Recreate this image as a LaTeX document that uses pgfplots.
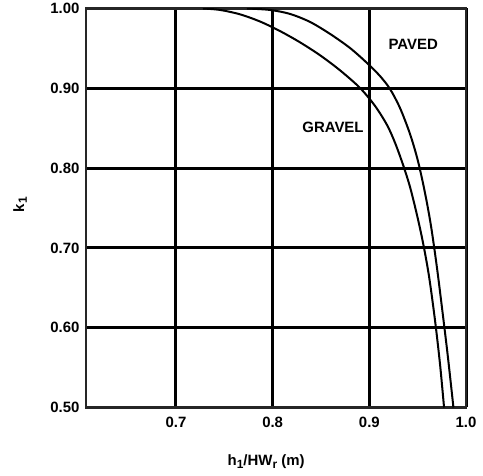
\documentclass[border=0pt]{standalone}
\usepackage{fontspec}
\setmainfont{Liberation Sans}
\usepackage{pgfplots}
\pgfplotsset{compat=1.18}
\begin{document}
\begin{tikzpicture}
\begin{axis}[
  scale only axis, width=380bp, height=399bp,
  xmin=0.6069, xmax=1.0, ymin=0.5, ymax=1.0,
  xtick={0.7,0.8,0.9,1.0}, ytick={0.5,0.6,0.7,0.8,0.9,1.0},
  grid=major, major grid style={black, line width=3bp},
  axis line style={black!85, line width=2.5bp},
  major tick length=0pt,
  tick label style={font=\fontsize{15}{18}\selectfont\bfseries, /pgf/number format/assume math mode=true},
  xticklabel style={/pgf/number format/fixed, /pgf/number format/fixed zerofill, /pgf/number format/precision=1, yshift=-6bp},
  yticklabel style={/pgf/number format/fixed, /pgf/number format/fixed zerofill, /pgf/number format/precision=2, xshift=-3bp},
  xlabel={h\raisebox{-0.35ex}{\fontsize{12}{12}\selectfont 1}/HW\raisebox{-0.35ex}{\fontsize{12}{12}\selectfont r} (m)},
  xlabel style={at={(axis description cs:0.474,-0.1366)}, anchor=center, font=\fontsize{15}{18}\selectfont\bfseries},
  ylabel={k\raisebox{-0.35ex}{\fontsize{12}{12}\selectfont 1}},
  ylabel style={at={(axis description cs:-0.1737,0.508)}, anchor=center, font=\fontsize{15}{18}\selectfont\bfseries},
]
% GRAVEL
\addplot[black, line width=2bp, smooth, tension=0.5] coordinates {
(0.7279,1.0000) (0.7455,0.9982) (0.7662,0.9927) (0.7869,0.9837) (0.8076,0.9717)
(0.8283,0.9576) (0.8490,0.9414) (0.8696,0.9226) (0.8903,0.9005) (0.9059,0.8779)
(0.9183,0.8540) (0.9265,0.8320) (0.9348,0.8044) (0.9421,0.7763) (0.9493,0.7412)
(0.9555,0.7066) (0.9617,0.6648) (0.9679,0.6096) (0.9731,0.5545) (0.9773,0.5000)
};
% PAVED
\addplot[black, line width=2bp, smooth, tension=0.5] coordinates {
(0.7734,1.0000) (0.7972,0.9982) (0.8179,0.9932) (0.8386,0.9832) (0.8593,0.9682)
(0.8800,0.9505) (0.8976,0.9317) (0.9110,0.9154) (0.9214,0.8991) (0.9317,0.8754)
(0.9421,0.8427) (0.9503,0.8089) (0.9576,0.7688) (0.9638,0.7274) (0.9700,0.6748)
(0.9762,0.6147) (0.9814,0.5620) (0.9870,0.5000)
};
\node[font=\fontsize{15}{18}\selectfont\bfseries] at (rel axis cs:0.861,0.910) {PAVED};
\node[font=\fontsize{15}{18}\selectfont\bfseries] at (rel axis cs:0.650,0.701) {GRAVEL};
\end{axis}
\pgfresetboundingbox
\useasboundingbox ([xshift=-86bp,yshift=-68.5bp]current axis.south west) rectangle ([xshift=17bp,yshift=8.5bp]current axis.north east);
\end{tikzpicture}
\end{document}
